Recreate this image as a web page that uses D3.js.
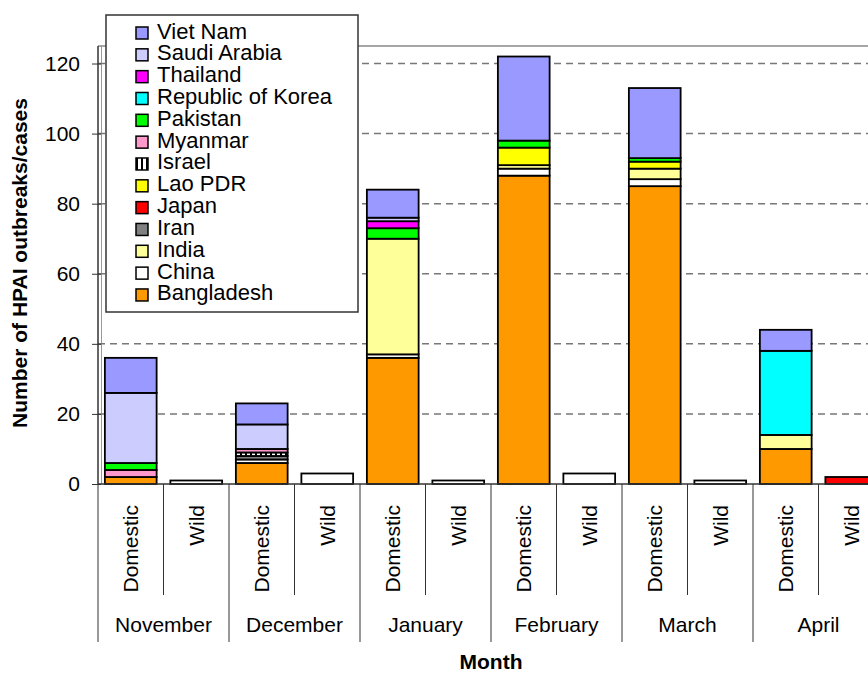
<!DOCTYPE html>
<meta charset="utf-8">
<head>
  <title>HPAI outbreaks by month</title>
</head>
<style>
body {
  margin: 0;
  background: #fff;
  font-family: "Liberation Sans", Arial, sans-serif;
}
text { fill: #000; }
</style>
<body>
<svg id="chart" width="868" height="673"></svg>
<script src="https://cdn.jsdelivr.net/npm/d3@7"></script>
<script>
var months = ["November", "December", "January", "February", "March", "April"];
var types = ["Domestic", "Wild"];

// stack order, bottom to top
var countries = ["Bangladesh", "China", "India", "Iran", "Japan", "Lao PDR", "Israel",
  "Myanmar", "Pakistan", "Republic of Korea", "Thailand", "Saudi Arabia", "Viet Nam"];
var colors = ["#FF9900", "#FFFFFF", "#FFFF99", "#808080", "#FF0000", "#FFFF00", "url(#stripes)",
  "#FF99CC", "#00FF00", "#00FFFF", "#FF00FF", "#CCCCFF", "#9999FF"];

// one value per bar: Nov D, Nov W, Dec D, Dec W, ... Apr D, Apr W
var bangladesh = [2, 0, 6, 0, 36, 0, 88, 0, 85, 0, 10, 0];
var china      = [0, 1, 1, 3, 1, 1, 2, 3, 2, 1, 0, 0];
var india      = [0, 0, 0, 0, 33, 0, 1, 0, 3, 0, 4, 0];
var iran       = [0, 0, 1, 0, 0, 0, 0, 0, 0, 0, 0, 0];
var japan      = [0, 0, 0, 0, 0, 0, 0, 0, 0, 0, 0, 2];
var lao        = [0, 0, 0, 0, 0, 0, 5, 0, 2, 0, 0, 0];
var israel     = [0, 0, 1, 0, 0, 0, 0, 0, 0, 0, 0, 0];
var myanmar    = [2, 0, 1, 0, 0, 0, 0, 0, 0, 0, 0, 0];
var pakistan   = [2, 0, 0, 0, 3, 0, 2, 0, 1, 0, 0, 0];
var korea      = [0, 0, 0, 0, 0, 0, 0, 0, 0, 0, 24, 0];
var thailand   = [0, 0, 0, 0, 2, 0, 0, 0, 0, 0, 0, 0];
var saudi      = [20, 0, 7, 0, 1, 0, 0, 0, 0, 0, 0, 0];
var vietnam    = [10, 0, 6, 0, 8, 0, 24, 0, 20, 0, 6, 0];

var yTicks = [0, 20, 40, 60, 80, 100, 120];

var series = [bangladesh, china, india, iran, japan, lao, israel, myanmar, pakistan, korea, thailand, saudi, vietnam];

var cats = [];
months.forEach(function(m) { types.forEach(function(t) { cats.push(m + "|" + t); }); });

var rows = cats.map(function(c, i) {
  var r = { cat: c };
  countries.forEach(function(k, j) { r[k] = series[j][i]; });
  return r;
});

var svg = d3.select("#chart");

var defs = svg.append("defs");
var pat = defs.append("pattern")
  .attr("id", "stripes")
  .attr("patternUnits", "userSpaceOnUse")
  .attr("width", 5).attr("height", 5);
pat.append("rect").attr("width", 5).attr("height", 5).attr("fill", "#fff");
pat.append("rect").attr("x", 0).attr("width", 2).attr("height", 5).attr("fill", "#000");

var plot = { left: 98, right: 884, top: 46, bottom: 484 };

var x = d3.scaleBand().domain(cats).range([plot.left, plot.right]).padding(0);
var y = d3.scaleLinear().domain([0, 125]).range([plot.bottom, plot.top]);
var color = d3.scaleOrdinal().domain(countries).range(colors);

// plot frame
svg.append("line")
  .attr("x1", plot.left).attr("x2", plot.right).attr("y1", plot.top).attr("y2", plot.top)
  .attr("stroke", "#888").attr("stroke-width", 1.5);
svg.append("line")
  .attr("x1", plot.left + 3.5).attr("x2", plot.left + 3.5).attr("y1", plot.top).attr("y2", plot.bottom)
  .attr("stroke", "#999").attr("stroke-width", 1);

// dashed grid
svg.append("g").selectAll("line")
  .data(yTicks.filter(function(d) { return d > 0; }))
  .join("line")
  .attr("x1", plot.left).attr("x2", plot.right)
  .attr("y1", function(d) { return y(d); }).attr("y2", function(d) { return y(d); })
  .attr("stroke", "#777").attr("stroke-width", 1.5)
  .attr("stroke-dasharray", "7,5");

// y axis
var yAxis = svg.append("g")
  .attr("transform", "translate(" + plot.left + ",0)")
  .call(d3.axisLeft(y).tickValues(yTicks).tickSize(6).tickPadding(12));
yAxis.select(".domain").attr("stroke", "#333").attr("stroke-width", 1.5)
  .attr("d", "M0," + plot.top + "V" + (plot.bottom + 1));
yAxis.selectAll(".tick line").attr("stroke", "#333").attr("x2", -6).attr("x1", 3);
yAxis.selectAll("text")
  .style("font-family", "'Liberation Sans', Arial, sans-serif")
  .style("font-size", "21px").attr("fill", "#000");

svg.append("text")
  .attr("transform", "translate(27," + 263 + ") rotate(-90)")
  .attr("text-anchor", "middle")
  .style("font-size", "21px").style("font-weight", "bold")
  .text("Number of HPAI outbreaks/cases");

// stacked bars
var stacked = d3.stack().keys(countries)(rows);
var bw = x.bandwidth() * 0.79;

svg.append("g").selectAll("g")
  .data(stacked)
  .join("g")
  .attr("fill", function(d) { return color(d.key); })
  .selectAll("rect")
  .data(function(d) { return d.filter(function(p) { return p[1] - p[0] > 0; }); })
  .join("rect")
  .attr("x", function(d) { return x(d.data.cat) + (x.bandwidth() - bw) / 2; })
  .attr("width", bw)
  .attr("y", function(d) { return y(d[1]); })
  .attr("height", function(d) { return y(d[0]) - y(d[1]); })
  .attr("stroke", "#000").attr("stroke-width", 1.8);

// category axis
var xg = svg.append("g");
xg.append("line")
  .attr("x1", plot.left).attr("x2", plot.right).attr("y1", plot.bottom).attr("y2", plot.bottom)
  .attr("stroke", "#333").attr("stroke-width", 1.5);

// separators between bars and between months
xg.selectAll("line.sep")
  .data(d3.range(cats.length + 1))
  .join("line")
  .attr("class", "sep")
  .attr("x1", function(i) { return plot.left + i * x.step(); })
  .attr("x2", function(i) { return plot.left + i * x.step(); })
  .attr("y1", plot.bottom)
  .attr("y2", function(i) { return i % 2 === 0 ? 642 : 595; })
  .attr("stroke", "#333").attr("stroke-width", 1);

xg.selectAll("text.type")
  .data(cats)
  .join("text")
  .attr("class", "type")
  .attr("transform", function(c) {
    return "translate(" + (x(c) + x.bandwidth() / 2 + 7.5) + ",505) rotate(-90)";
  })
  .attr("text-anchor", "end")
  .style("font-size", "21px")
  .text(function(c) { return c.split("|")[1]; });

xg.selectAll("text.month")
  .data(months)
  .join("text")
  .attr("class", "month")
  .attr("x", function(m) { return x(m + "|Wild"); })
  .attr("y", 632)
  .attr("text-anchor", "middle")
  .style("font-size", "21px")
  .text(function(m) { return m; });

svg.append("text")
  .attr("x", 491).attr("y", 669)
  .attr("text-anchor", "middle")
  .style("font-size", "21px").style("font-weight", "bold")
  .text("Month");

// legend, top entry is the last series
var legend = svg.append("g");
legend.append("rect")
  .attr("x", 106).attr("y", 15).attr("width", 252).attr("height", 297)
  .attr("fill", "#fff").attr("stroke", "#333").attr("stroke-width", 1.5);

var legItems = countries.slice().reverse();
var li = legend.selectAll("g.item")
  .data(legItems)
  .join("g")
  .attr("class", "item")
  .attr("transform", function(d, i) { return "translate(136," + (27 + i * 21.83) + ")"; });
li.append("rect")
  .attr("width", 12).attr("height", 12)
  .attr("fill", function(d) { return color(d); })
  .attr("stroke", "#000").attr("stroke-width", 1.5);
li.append("text")
  .attr("x", 21).attr("y", 11.5)
  .style("font-size", "22px")
  .text(function(d) { return d; });
</script>
</body>
</html>
